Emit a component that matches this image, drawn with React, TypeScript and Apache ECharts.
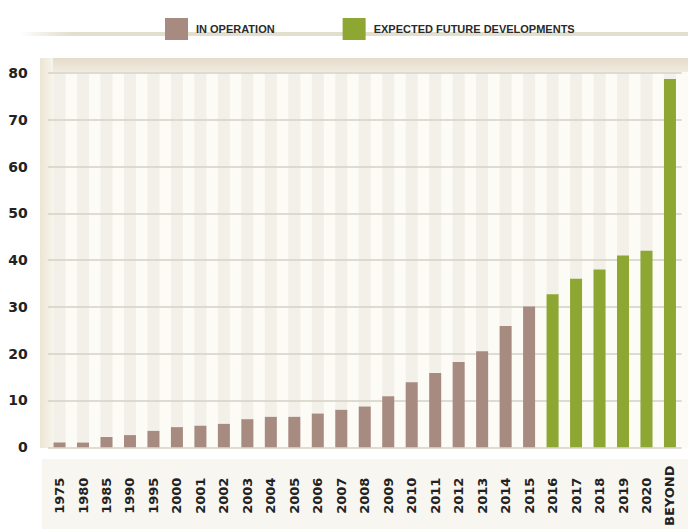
import React, { useEffect, useRef } from 'react';
import * as echarts from 'echarts';

const categories = ['1975', '1980', '1985', '1990', '1995', '2000', '2001', '2002', '2003', '2004', '2005', '2006', '2007', '2008', '2009', '2010', '2011', '2012', '2013', '2014', '2015', '2016', '2017', '2018', '2019', '2020', 'BEYOND'];
const inOperation = [1.0, 1.0, 2.2, 2.6, 3.5, 4.3, 4.6, 5.0, 6.0, 6.5, 6.5, 7.2, 8.0, 8.7, 10.9, 13.9, 15.9, 18.2, 20.5, 25.9, 30.1];
const expectedFuture = [32.7, 36.0, 38.0, 41.0, 42.0, 78.7];
const seriesNames = ['IN OPERATION', 'EXPECTED FUTURE DEVELOPMENTS'];
const yMin = 0;
const yMax = 80;
const yInterval = 10;

export default function App() {
  const ref = useRef<HTMLDivElement>(null);
  useEffect(() => {
    if (!ref.current) return;
    const chart = echarts.init(ref.current, null, { renderer: 'svg' });
    const n = categories.length;
    const opData = categories.map((_, i) => (i < inOperation.length ? inOperation[i] : null));
    const offset = n - expectedFuture.length;
    const futData = categories.map((_, i) => (i >= offset ? expectedFuture[i - offset] : null));
    chart.setOption({
      animation: false,
      backgroundColor: '#ffffff',
      legend: {
        left: 160,
        top: 13,
        itemWidth: 23,
        itemHeight: 22,
        itemGap: 68,
        icon: 'rect',
        data: seriesNames,
        selectedMode: false,
        textStyle: {
          fontFamily: 'Liberation Sans, Arial, sans-serif',
          fontWeight: 'bold',
          fontSize: 11,
          color: '#2a2a2a',
          padding: [0, 0, 13, 3],
        },
      },
      graphic: [
        {
          type: 'rect', z: -1, silent: true,
          shape: { x: 20, y: 32, width: 668, height: 4 },
          style: {
            fill: new echarts.graphic.LinearGradient(0, 0, 1, 0, [
              { offset: 0, color: 'rgba(220,216,196,0)' },
              { offset: 0.08, color: '#e2dfcd' },
              { offset: 1, color: '#e2dfcd' },
            ]),
          },
        },
        {
          type: 'rect', z: -1, silent: true,
          shape: { x: 40, y: 58, width: 648, height: 390 },
          style: { fill: '#fcfbf6' },
        },
        {
          type: 'rect', z: -1, silent: true,
          shape: { x: 40, y: 58, width: 648, height: 14 },
          style: {
            fill: new echarts.graphic.LinearGradient(0, 0, 0, 1, [
              { offset: 0, color: '#e5dbca' },
              { offset: 1, color: '#f0ebe0' },
            ]),
          },
        },
        {
          type: 'rect', z: -1, silent: true,
          shape: { x: 40, y: 58, width: 13, height: 390 },
          style: {
            fill: new echarts.graphic.LinearGradient(0, 0, 1, 0, [
              { offset: 0, color: '#ece5d3' },
              { offset: 1, color: '#f7f4eb' },
            ]),
          },
        },
        {
          type: 'rect', z: -1, silent: true,
          shape: { x: 42, y: 459, width: 646, height: 70 },
          style: { fill: '#f7f6f1' },
        },
      ],
      grid: {
        left: 47.8,
        right: 6.3,
        top: 73,
        bottom: 81.5,
        containLabel: false,
      },
      xAxis: {
        type: 'category',
        data: categories,
        axisLine: { show: false },
        axisTick: { show: false },
        splitLine: { show: false },
        axisLabel: {
          interval: 0,
          rotate: 90,
          align: 'center',
          margin: 48.5,
          fontFamily: 'DejaVu Sans, sans-serif',
          fontWeight: 'bold',
          fontSize: 13,
          color: '#222222',
        },
      },
      yAxis: {
        type: 'value',
        min: yMin,
        max: yMax,
        interval: yInterval,
        axisLine: { show: false },
        axisTick: { show: false },
        splitLine: { lineStyle: { color: '#d4d1c6', width: 1.5 } },
        axisLabel: {
          margin: 20,
          fontFamily: 'DejaVu Sans, sans-serif',
          fontWeight: 'bold',
          fontSize: 14,
          color: '#222222',
        },
      },
      series: [
        {
          name: seriesNames[0],
          type: 'bar',
          data: opData,
          barWidth: 12,
          barGap: '-100%',
          itemStyle: { color: '#a88b80' },
          showBackground: true,
          backgroundStyle: { color: 'rgba(214,211,200,0.28)' },
        },
        {
          name: seriesNames[1],
          type: 'bar',
          data: futData,
          barWidth: 12,
          barGap: '-100%',
          itemStyle: { color: '#8ea733' },
        },
      ],
    });
    return () => chart.dispose();
  }, []);
  return (
    <div
      ref={ref}
      style={{ position: 'fixed', left: 0, top: 0, width: 688, height: 529 }}
    />
  );
}
